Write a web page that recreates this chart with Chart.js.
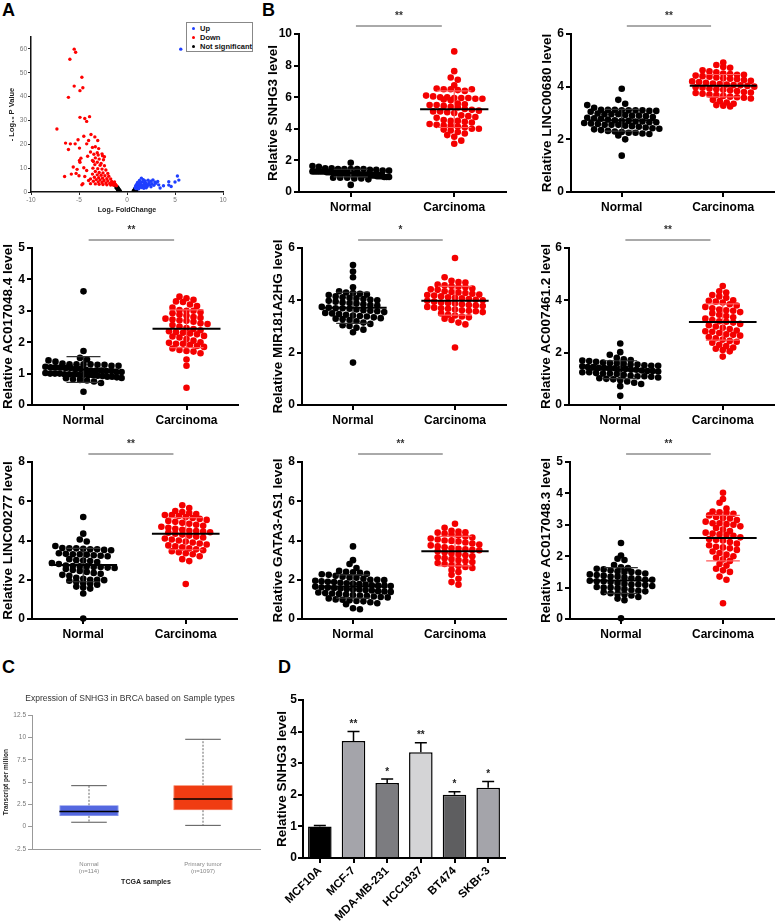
<!DOCTYPE html>
<html lang="en">
<head>
<meta charset="UTF-8">
<title>SNHG3 expression in breast cancer</title>
<script src="https://cdn.jsdelivr.net/npm/chart.js"></script>
<style>
    body { margin: 0; background: #fff; font-family: "Liberation Sans", Arial, sans-serif; }
    #page { position: relative; width: 778px; height: 924px; overflow: hidden; }
    canvas { position: absolute; }
    .tag { position: absolute; font-weight: bold; font-size: 18px; line-height: 1; }
    .legend { position: absolute; left: 186px; top: 22px; width: 67px; height: 30px; border: 1px solid #888; background: #fff;
              font-size: 7.5px; font-weight: bold; color: #111; padding: 1px 0 0 4px; box-sizing: border-box; }
    .legend div { height: 9px; line-height: 9px; white-space: nowrap; }
    .legend span { display: inline-block; width: 3px; height: 3px; border-radius: 50%; margin: 0 5px 1px 1px; vertical-align: middle; }
</style>
</head>
<body>
<div id="page">
    <div class="tag" style="left:2px;top:1px">A</div>
    <div class="tag" style="left:262px;top:1px">B</div>
    <div class="tag" style="left:2px;top:658px">C</div>
    <div class="tag" style="left:278px;top:658px">D</div>

    <canvas id="volcano" width="255" height="200" style="left:0;top:20px"></canvas>
    <div class="legend">
        <div><span style="background:#1f3fff"></span>Up</div>
        <div><span style="background:#ff0000"></span>Down</div>
        <div><span style="background:#000"></span>Not significant</div>
    </div>

    <canvas id="b1" width="245" height="217" style="left:265px;top:0"></canvas>
    <canvas id="b2" width="239" height="217" style="left:539px;top:0"></canvas>
    <canvas id="b3" width="242" height="215" style="left:0;top:216px"></canvas>
    <canvas id="b4" width="240" height="215" style="left:270px;top:216px"></canvas>
    <canvas id="b5" width="240" height="215" style="left:538px;top:216px"></canvas>
    <canvas id="b6" width="241" height="215" style="left:0;top:430px"></canvas>
    <canvas id="b7" width="240" height="215" style="left:270px;top:430px"></canvas>
    <canvas id="b8" width="240" height="215" style="left:538px;top:430px"></canvas>

    <canvas id="tcga" width="265" height="200" style="left:0;top:688px"></canvas>
    <canvas id="cells" width="234" height="244" style="left:274px;top:680px"></canvas>
</div>

<script>
    // ---------- data ----------
    const groupLabels = ['Normal', 'Carcinoma'];

    // A: volcano plot, [log2 fold change, -log10 p]
    const volcanoUp = [[5.6,59.9],[5.25,6.7],[5.4,5.0],[5.0,4.2],[4.35,4.3],[4.35,2.9],[3.2,4.4],[2.7,5.1],[3.45,1.7],
        [1.5,5.8],[1.7,5.2],[1.3,4.8],[1.9,4.6],[2.2,4.9],[2.5,4.5],[2.9,4.2],[1.1,4.0],[1.4,3.9],[1.6,4.3],[1.8,3.8],
        [2.0,3.6],[2.3,3.9],[2.6,3.5],[3.0,3.7],[1.0,3.2],[1.2,3.4],[1.45,3.1],[1.7,3.0],[1.95,3.2],[2.15,2.9],[2.4,3.0],
        [2.8,2.8],[3.3,3.0],[0.9,2.5],[1.15,2.7],[1.35,2.4],[1.6,2.2],[1.85,2.5],[2.1,2.3],[2.5,2.2],[0.85,1.8],[1.05,2.0],
        [1.25,1.7],[1.5,1.9],[1.75,1.6],[2.0,1.8],[0.95,1.4],[1.2,1.3],[4.6,2.3],[3.8,2.6]];
    const volcanoDown = [[-5.5,59.9],[-5.35,58.6],[-5.95,55.7],[-4.7,48.1],[-5.5,44.4],[-4.6,43.7],[-4.9,42.5],[-6.1,39.7],
        [-4.9,31.3],[-4.4,30.8],[-3.9,31.6],[-4.2,29.6],[-7.3,26.4],[-3.75,24.1],[-4.5,23.4],[-3.35,23.1],[-3.05,21.6],
        [-4.0,21.6],[-5.1,21.9],[-5.9,20.2],[-5.4,20.2],[-4.2,20.2],[-6.1,17.8],[-4.95,18.4],[-3.3,19.0],[-3.6,18.7],
        [-2.95,18.2],[-3.1,16.5],[-3.45,15.8],[-3.0,15.5],[-2.55,15.2],[-2.35,14.8],[-4.8,14.2],[-4.95,13.2],[-3.3,14.3],
        [-2.9,13.8],[-2.45,13.5],[-3.5,12.8],[-3.1,12.5],[-4.9,12.5],[-3.35,11.5],[-2.8,11.2],[-2.35,11.0],[-5.6,10.5],
        [-4.5,10.2],[-3.55,10.0],[-3.05,9.8],[-2.6,9.6],[-2.2,9.2],[-5.2,9.5],[-4.2,9.0],[-3.3,8.6],[-2.9,8.2],[-2.5,8.0],
        [-2.0,7.8],[-3.6,7.5],[-3.1,7.2],[-2.7,7.0],[-2.3,6.8],[-1.9,6.6],[-6.5,6.5],[-5.0,6.8],[-4.4,6.5],[-3.4,6.2],
        [-2.95,6.0],[-2.55,5.8],[-2.1,5.6],[-1.7,5.5],[-3.8,5.5],[-3.2,5.2],[-2.8,5.0],[-2.4,4.8],[-2.0,4.6],[-1.6,4.4],
        [-1.3,4.2],[-5.8,7.5],[-4.0,4.8],[-3.5,4.5],[-3.0,4.2],[-2.6,4.0],[-2.2,3.8],[-1.8,3.6],[-1.5,3.4],[-1.2,3.2],
        [-4.6,3.5],[-4.7,3.0],[-3.3,3.4],[-2.9,3.2],[-2.5,3.1],[-2.1,3.0],[-1.7,2.9],[-1.4,2.8],[-3.8,3.5],[-3.6,13.2],
        [-2.7,12.0],[-4.1,15.0],[-3.8,16.8],[-2.6,16.0],[-5.3,7.8],[-6.4,20.5],[-1.1,2.6],[-1.3,3.6],[-1.5,3.9]];
    const volcanoNS = [[-1.2,2.8],[-1.1,2.4],[-1.0,2.2],[-0.95,1.9],[-0.9,1.6],[-0.85,1.3],[-0.8,1.0],[-0.75,0.7],[-0.7,0.4],
        [-1.05,1.5],[-1.0,1.0],[-0.95,0.6],[-0.9,0.3],[-1.15,1.8],[-0.85,0.5],[0.65,0.4],[0.7,0.7],[0.75,1.0],[0.8,1.3],
        [0.85,1.6],[0.9,1.9],[0.95,2.2],[0.8,0.5],[0.9,0.8],[0.95,1.1],[1.0,1.4],[0.9,0.3],[1.0,0.6],[0.7,0.2],[-0.75,0.2]];

    // B: relative expression, one array per group
    const snhg3Normal = [1.85,1.65,1.6,1.5,1.5,1.45,1.45,1.45,1.45,1.45,1.4,1.4,1.35,1.35,1.3,1.3,1.3,1.3,1.3,1.3,1.25,1.25,1.25,1.25,
        1.2,1.2,1.2,1.2,1.2,1.2,1.2,1.15,1.15,1.15,1.1,1.1,1.1,1.1,1.05,1.05,1.05,1.0,1.0,1.0,0.95,0.95,0.95,0.9,0.9,0.9,0.85,0.85,0.8,0.45];
    const snhg3Carcinoma = [8.9,7.65,7.25,7.1,6.75,6.55,6.5,6.5,6.45,6.4,6.5,6.1,6.05,6.0,6.0,5.95,5.95,5.95,5.9,5.9,5.85,5.8,5.6,5.55,
        5.5,5.5,5.45,5.4,5.35,5.25,5.2,5.15,5.1,5.1,5.05,5.0,4.85,4.8,4.75,4.7,4.55,4.5,4.5,4.45,4.4,4.3,4.25,4.2,4.2,4.15,4.1,
        4.0,4.0,3.95,3.9,3.8,3.7,3.6,3.5,3.25,3.05];
    const linc00680Normal = [3.92,3.5,3.35,3.3,3.2,3.12,3.12,3.12,3.1,3.1,3.1,3.1,3.08,3.08,3.05,2.98,2.95,2.95,2.95,2.92,2.9,2.9,2.88,
        2.85,2.82,2.8,2.78,2.75,2.72,2.7,2.7,2.68,2.68,2.65,2.65,2.62,2.6,2.58,2.55,2.55,2.55,2.52,2.5,2.48,2.45,2.42,2.4,2.38,
        2.35,2.32,2.3,2.28,2.25,2.25,2.22,2.2,2.15,2.0,1.38];
    const linc00680Carcinoma = [4.92,4.82,4.75,4.72,4.62,4.58,4.55,4.5,4.48,4.45,4.45,4.42,4.4,4.38,4.35,4.32,4.3,4.28,4.25,4.22,4.2,
        4.18,4.15,4.12,4.1,4.08,4.06,4.05,4.03,4.0,3.98,3.96,3.93,3.9,3.88,3.86,3.83,3.8,3.78,3.76,3.73,3.7,3.68,3.65,3.62,3.6,
        3.58,3.55,3.5,3.45,3.4,3.35,3.3,3.28,3.25];
    const ac0170484Normal = [3.62,1.72,1.5,1.45,1.42,1.38,1.32,1.3,1.3,1.3,1.3,1.28,1.28,1.25,1.25,1.22,1.2,1.2,1.2,1.18,1.18,1.15,1.15,
        1.12,1.1,1.1,1.1,1.08,1.08,1.05,1.05,1.02,1.0,1.0,1.0,0.98,0.98,0.98,0.96,0.96,0.95,0.95,0.93,0.92,0.9,0.9,0.88,0.86,
        0.85,0.82,0.8,0.78,0.75,0.7,0.42];
    const ac0170484Carcinoma = [3.45,3.4,3.35,3.3,3.28,3.2,3.15,3.1,3.02,3.0,3.0,2.95,2.92,2.88,2.85,2.8,2.78,2.75,2.72,2.7,2.68,2.65,
        2.6,2.58,2.55,2.5,2.45,2.42,2.38,2.35,2.32,2.3,2.28,2.25,2.2,2.18,2.15,2.1,2.05,2.0,1.98,1.95,1.95,1.92,1.88,1.85,1.8,
        1.75,1.72,1.7,1.65,1.45,1.25,0.55];
    const mir181Normal = [5.35,5.1,4.88,4.5,4.35,4.3,4.28,4.25,4.22,4.2,4.15,4.12,4.1,4.08,4.05,4.02,4.0,3.98,3.95,3.92,3.9,3.88,3.85,
        3.82,3.8,3.75,3.72,3.7,3.7,3.68,3.65,3.62,3.6,3.58,3.55,3.52,3.5,3.48,3.45,3.42,3.4,3.38,3.35,3.32,3.3,3.28,3.25,3.2,
        3.15,3.1,3.05,3.02,2.95,2.88,2.78,1.62];
    const mir181Carcinoma = [5.62,4.88,4.75,4.7,4.68,4.6,4.57,4.55,4.52,4.5,4.45,4.42,4.4,4.35,4.32,4.3,4.28,4.25,4.22,4.2,4.18,4.15,
        4.12,4.1,4.08,4.05,4.02,4.0,3.98,3.95,3.92,3.9,3.88,3.85,3.82,3.8,3.78,3.75,3.72,3.7,3.68,3.65,3.62,3.6,3.58,3.55,3.5,
        3.45,3.42,3.38,3.35,3.3,3.25,3.15,3.08,2.2];
    const ac0074612Normal = [2.35,2.02,1.92,1.8,1.75,1.72,1.7,1.68,1.65,1.62,1.6,1.6,1.58,1.55,1.55,1.52,1.5,1.5,1.48,1.45,1.45,1.42,
        1.42,1.4,1.4,1.38,1.38,1.35,1.35,1.32,1.3,1.3,1.28,1.25,1.25,1.22,1.2,1.2,1.18,1.15,1.12,1.1,1.1,1.08,1.05,1.02,1.0,
        0.98,0.95,0.9,0.85,0.8,0.72,0.35];
    const ac0074612Carcinoma = [4.55,4.35,4.3,4.2,4.15,4.1,4.0,3.98,3.95,3.92,3.85,3.8,3.75,3.7,3.65,3.62,3.6,3.55,3.5,3.45,3.4,3.35,
        3.3,3.25,3.2,3.18,3.15,3.1,3.05,3.0,2.95,2.9,2.85,2.82,2.8,2.75,2.7,2.68,2.65,2.6,2.55,2.5,2.45,2.42,2.38,2.3,2.25,2.2,
        2.15,2.1,2.05,1.85];
    const linc00277Normal = [5.2,4.35,4.05,3.95,3.72,3.62,3.6,3.6,3.58,3.55,3.55,3.52,3.5,3.35,3.32,3.3,3.3,3.28,3.25,3.22,3.2,3.05,
        3.0,2.98,2.95,2.9,2.85,2.8,2.72,2.7,2.68,2.68,2.65,2.65,2.62,2.6,2.55,2.5,2.45,2.4,2.35,2.3,2.25,2.2,2.1,2.05,2.0,2.0,
        1.98,1.95,1.9,1.82,1.8,1.75,1.65,1.6,1.55,1.3,0.02];
    const linc00277Carcinoma = [5.8,5.65,5.5,5.45,5.4,5.35,5.3,5.3,5.25,5.2,5.15,5.1,5.05,5.0,4.95,4.9,4.85,4.8,4.75,4.7,4.65,4.6,
        4.55,4.5,4.48,4.45,4.42,4.4,4.35,4.3,4.25,4.2,4.15,4.1,4.05,4.0,3.95,3.9,3.85,3.8,3.75,3.7,3.65,3.6,3.55,3.5,3.45,3.4,
        3.35,3.3,3.2,3.05,2.95,1.78];
    const gata3Normal = [3.7,3.0,2.8,2.6,2.45,2.4,2.38,2.35,2.3,2.28,2.25,2.2,2.15,2.12,2.1,2.05,2.0,2.0,1.98,1.95,1.92,1.9,1.88,
        1.85,1.82,1.8,1.78,1.75,1.72,1.7,1.7,1.68,1.65,1.62,1.6,1.58,1.55,1.52,1.5,1.5,1.48,1.45,1.42,1.4,1.38,1.35,1.32,1.3,
        1.28,1.25,1.22,1.2,1.18,1.15,1.12,1.1,1.05,1.0,0.98,0.95,0.92,0.9,0.85,0.8,0.75,0.55,0.5];
    const gata3Carcinoma = [4.85,4.65,4.5,4.45,4.42,4.4,4.35,4.3,4.25,4.2,4.15,4.1,4.05,4.0,3.98,3.95,3.9,3.85,3.8,3.75,3.7,3.65,
        3.6,3.58,3.55,3.52,3.5,3.45,3.4,3.35,3.3,3.25,3.2,3.15,3.1,3.05,3.0,2.95,2.9,2.85,2.8,2.75,2.7,2.65,2.6,2.5,2.4,2.25,
        2.05,1.88,1.75];
    const ac0170483Normal = [2.42,2.02,1.92,1.88,1.72,1.65,1.62,1.6,1.58,1.55,1.52,1.5,1.5,1.48,1.45,1.42,1.4,1.38,1.35,1.35,1.32,1.3,
        1.28,1.25,1.25,1.22,1.2,1.2,1.18,1.15,1.12,1.1,1.1,1.08,1.05,1.02,1.0,1.0,0.98,0.95,0.92,0.9,0.88,0.85,0.82,0.8,0.78,
        0.75,0.7,0.65,0.6,0.02];
    const ac0170483Carcinoma = [4.02,3.82,3.7,3.52,3.42,3.4,3.38,3.35,3.3,3.25,3.22,3.2,3.15,3.1,3.05,3.05,3.02,3.0,2.95,2.9,2.85,2.8,
        2.75,2.72,2.7,2.68,2.65,2.6,2.55,2.52,2.5,2.45,2.4,2.35,2.3,2.28,2.25,2.2,2.15,2.1,2.05,2.0,1.95,1.9,1.85,1.75,1.7,1.6,
        1.55,1.5,1.35,1.25,0.5];

    const dotGenes = ['SNHG3', 'LINC00680', 'AC017048.4', 'MIR181A2HG', 'AC007461.2', 'LINC00277', 'GATA3-AS1', 'AC017048.3'];
    const dotNormal = [snhg3Normal, linc00680Normal, ac0170484Normal, mir181Normal, ac0074612Normal, linc00277Normal, gata3Normal, ac0170483Normal];
    const dotCarcinoma = [snhg3Carcinoma, linc00680Carcinoma, ac0170484Carcinoma, mir181Carcinoma, ac0074612Carcinoma, linc00277Carcinoma, gata3Carcinoma, ac0170483Carcinoma];
    const dotYMax = [10, 6, 5, 6, 6, 8, 8, 5];
    const dotYStep = [2, 2, 1, 2, 2, 2, 2, 1];
    const dotStars = ['**', '**', '**', '*', '**', '**', '**', '**'];

    // C: TCGA box plot
    const tcgaLabels = [['Normal', '(n=114)'], ['Primary tumor', '(n=1097)']];
    const tcgaMin = [0.5, 0.15];
    const tcgaQ1 = [1.2, 1.85];
    const tcgaMedian = [1.7, 3.1];
    const tcgaQ3 = [2.4, 4.65];
    const tcgaMax = [4.6, 9.8];

    // D: cell lines
    const cellLines = ['MCF10A', 'MCF-7', 'MDA-MB-231', 'HCC1937', 'BT474', 'SKBr-3'];
    const cellSNHG3 = [1.0, 3.7, 2.37, 3.35, 2.0, 2.22];
    const cellSEM = [0.03, 0.3, 0.13, 0.3, 0.1, 0.2];
    const cellStars = ['', '**', '*', '**', '*', '*'];

    // ---------- layout ----------
    Chart.defaults.font.family = '"Liberation Sans", Arial, sans-serif';
    Chart.defaults.animation = false;
    Chart.defaults.plugins.legend.display = false;
    Chart.defaults.plugins.tooltip.enabled = false;

    // canvas inner geometry for the 8 dot plots: y axis width, top pad, right pad, x axis height
    const layoutB = [
        {yW: 34, top: 34, right: 3, xH: 25},
        {yW: 32, top: 34, right: 1, xH: 25},
        {yW: 32, top: 32, right: 4, xH: 26},
        {yW: 32, top: 32, right: 3, xH: 26},
        {yW: 31, top: 32, right: 1, xH: 26},
        {yW: 32, top: 32, right: 4, xH: 26},
        {yW: 32, top: 32, right: 3, xH: 26},
        {yW: 32, top: 32, right: 1, xH: 26}
    ];

    // spread dots sideways in rows, like a column scatter; wide rows get squeezed
    function swarm(values, center, yMax) {
        const bin = yMax * 0.038;
        const rows = {};
        values.forEach(v => {
            const k = Math.round(v / bin);
            (rows[k] = rows[k] || []).push(v);
        });
        const pts = [];
        Object.values(rows).forEach(row => {
            const step = row.length > 1 ? Math.min(0.068, 0.74 / (row.length - 1)) : 0;
            row.forEach((v, i) => pts.push({x: center + (i - (row.length - 1) / 2) * step, y: v}));
        });
        return pts;
    }

    const meanSdPlugin = {
        id: 'meanSd',
        afterDatasetsDraw(chart) {
            const {ctx, scales: {x, y}} = chart;
            chart.data.datasets.forEach((ds, i) => {
                const vals = ds.data.map(p => p.y);
                const mean = vals.reduce((a, b) => a + b, 0) / vals.length;
                const sd = Math.sqrt(vals.reduce((a, b) => a + (b - mean) ** 2, 0) / (vals.length - 1));
                const cx = x.getPixelForValue(i);
                const half = x.getPixelForValue(i + 0.33) - cx;
                const cap = half / 2;
                const yT = y.getPixelForValue(mean + sd), yB = y.getPixelForValue(mean - sd), yM = y.getPixelForValue(mean);
                ctx.save();
                ctx.strokeStyle = i ? '#ff5a5a' : '#333';
                ctx.lineWidth = 1.2;
                ctx.beginPath();
                ctx.moveTo(cx, yT); ctx.lineTo(cx, yB);
                ctx.moveTo(cx - cap, yT); ctx.lineTo(cx + cap, yT);
                ctx.moveTo(cx - cap, yB); ctx.lineTo(cx + cap, yB);
                ctx.stroke();
                ctx.strokeStyle = '#000';
                ctx.lineWidth = 2;
                ctx.beginPath();
                ctx.moveTo(cx - half, yM); ctx.lineTo(cx + half, yM);
                ctx.stroke();
                ctx.restore();
            });
        }
    };

    function sigBar(text) {
        return {
            id: 'sigBar',
            afterDraw(chart) {
                const {ctx, chartArea, scales: {x}} = chart;
                const x0 = x.getPixelForValue(0.05), x1 = x.getPixelForValue(0.88);
                const yl = chartArea.top - 8;
                ctx.save();
                ctx.strokeStyle = '#555';
                ctx.lineWidth = 1;
                ctx.beginPath(); ctx.moveTo(x0, yl); ctx.lineTo(x1, yl); ctx.stroke();
                ctx.fillStyle = '#333';
                ctx.font = 'bold 10px "Liberation Sans", Arial, sans-serif';
                ctx.textAlign = 'center';
                ctx.textBaseline = 'middle';
                ctx.fillText(text, (x0 + x1) / 2, yl - 10);
                ctx.restore();
            }
        };
    }

    function dotChart(i) {
        const L = layoutB[i];
        const yMax = dotYMax[i];
        new Chart(document.getElementById('b' + (i + 1)), {
            type: 'scatter',
            data: {
                datasets: [
                    {data: swarm(dotNormal[i], 0, yMax), backgroundColor: '#000', pointRadius: 3.3, borderWidth: 0, clip: false},
                    {data: swarm(dotCarcinoma[i], 1, yMax), backgroundColor: '#f40000', pointRadius: 3.3, borderWidth: 0, clip: false}
                ]
            },
            options: {
                responsive: false,
                layout: {padding: {top: L.top, right: L.right, left: 0, bottom: 0}},
                scales: {
                    x: {
                        type: 'linear', min: -0.5, max: 1.5,
                        afterBuildTicks: s => { s.ticks = [{value: 0}, {value: 1}]; },
                        afterFit: s => { s.height = L.xH; },
                        ticks: {callback: v => groupLabels[v], color: '#000', font: {size: 12, weight: 'bold'}, padding: 3, maxRotation: 0},
                        grid: {drawOnChartArea: false, tickLength: 5, lineWidth: 2, color: '#000'},
                        border: {color: '#000', width: 2}
                    },
                    y: {
                        min: 0, max: yMax,
                        afterFit: s => { s.width = L.yW; },
                        ticks: {stepSize: dotYStep[i], color: '#000', font: {size: 12, weight: 'bold'}, padding: 2},
                        grid: {drawOnChartArea: false, tickLength: 5, lineWidth: 2, color: '#000'},
                        border: {color: '#000', width: 2},
                        title: {display: true, text: 'Relative ' + dotGenes[i] + ' level', color: '#000',
                                font: {size: 13.5, weight: 'bold'}, padding: {top: 0, bottom: 0}}
                    }
                }
            },
            plugins: [meanSdPlugin, sigBar(dotStars[i])]
        });
    }
    for (let i = 0; i < 8; i++) dotChart(i);

    // A: volcano
    const toPts = arr => arr.map(p => ({x: p[0], y: p[1]}));
    new Chart(document.getElementById('volcano'), {
        type: 'scatter',
        data: {
            datasets: [
                {label: 'Up', data: toPts(volcanoUp), backgroundColor: '#1f3fff', pointRadius: 1.7, borderWidth: 0},
                {label: 'Down', data: toPts(volcanoDown), backgroundColor: '#ff0000', pointRadius: 1.7, borderWidth: 0},
                {label: 'Not significant', data: toPts(volcanoNS), backgroundColor: '#000', pointRadius: 1.7, borderWidth: 0}
            ]
        },
        options: {
            responsive: false,
            layout: {padding: {top: 17, right: 32, left: 0, bottom: 0}},
            scales: {
                x: {
                    type: 'linear', min: -10, max: 10,
                    afterFit: s => { s.height = 28; },
                    ticks: {stepSize: 5, color: '#777', font: {size: 6.5}, padding: 1},
                    grid: {drawOnChartArea: false, tickLength: 3, color: '#222'},
                    border: {color: '#111', width: 1.5},
                    title: {display: true, text: 'Log₂ FoldChange', color: '#222', font: {size: 7, weight: 'bold'}, padding: {top: 0, bottom: 5.8}}
                },
                y: {
                    min: 0, max: 65,
                    afterBuildTicks: s => { s.ticks = s.ticks.filter(t => t.value % 10 === 0); },
                    afterFit: s => { s.width = 31; },
                    ticks: {stepSize: 10, color: '#777', font: {size: 6.5}, padding: 1},
                    grid: {drawOnChartArea: false, tickLength: 3, color: '#222'},
                    border: {color: '#111', width: 1.5},
                    title: {display: true, text: '- Log₁₀ P Value', color: '#222', font: {size: 7.5, weight: 'bold'}, padding: {top: 7.5, bottom: 0}}
                }
            }
        }
    });

    // C: TCGA box plot
    const boxPlugin = {
        id: 'boxParts',
        afterDatasetsDraw(chart) {
            const {ctx, scales: {x, y}} = chart;
            const bars = chart.getDatasetMeta(0).data;
            ctx.save();
            bars.forEach((bar, i) => {
                const cx = x.getPixelForValue(i);
                const w = bar.width;
                const capW = w * 0.3;
                ctx.strokeStyle = '#666';
                ctx.lineWidth = 1;
                ctx.setLineDash([2, 1.5]);
                ctx.beginPath();
                ctx.moveTo(cx, y.getPixelForValue(tcgaQ3[i])); ctx.lineTo(cx, y.getPixelForValue(tcgaMax[i]));
                ctx.moveTo(cx, y.getPixelForValue(tcgaQ1[i])); ctx.lineTo(cx, y.getPixelForValue(tcgaMin[i]));
                ctx.stroke();
                ctx.setLineDash([]);
                ctx.strokeStyle = '#555';
                ctx.beginPath();
                ctx.moveTo(cx - capW, y.getPixelForValue(tcgaMax[i])); ctx.lineTo(cx + capW, y.getPixelForValue(tcgaMax[i]));
                ctx.moveTo(cx - capW, y.getPixelForValue(tcgaMin[i])); ctx.lineTo(cx + capW, y.getPixelForValue(tcgaMin[i]));
                ctx.stroke();
                ctx.strokeStyle = '#000';
                ctx.lineWidth = 1.5;
                ctx.beginPath();
                ctx.moveTo(cx - w / 2, y.getPixelForValue(tcgaMedian[i])); ctx.lineTo(cx + w / 2, y.getPixelForValue(tcgaMedian[i]));
                ctx.stroke();
            });
            ctx.restore();
        }
    };
    new Chart(document.getElementById('tcga'), {
        type: 'bar',
        data: {
            labels: tcgaLabels,
            datasets: [{
                data: tcgaQ1.map((q, i) => [q, tcgaQ3[i]]),
                backgroundColor: ['#5468e0', '#f03c12'],
                borderColor: ['#7080e8', '#f25a30'],
                borderWidth: 0.8,
                borderSkipped: false,
                barPercentage: 0.52,
                categoryPercentage: 1
            }]
        },
        options: {
            responsive: false,
            layout: {padding: {top: 0, right: 5, left: 0, bottom: 0}},
            plugins: {
                title: {display: true, text: 'Expression of SNHG3 in BRCA based on Sample types', color: '#333',
                        font: {size: 8.5, weight: 'normal'}, padding: {top: 6, bottom: 11}}
            },
            scales: {
                x: {
                    afterFit: s => { s.height = 39; },
                    ticks: {color: '#888', font: {size: 6}, padding: 12, maxRotation: 0},
                    grid: {display: false, drawTicks: false},
                    border: {color: '#999', width: 1},
                    title: {display: true, text: 'TCGA samples', color: '#222', font: {size: 7, weight: 'bold'}, padding: {top: 0, bottom: 1.8}}
                },
                y: {
                    min: -2.5, max: 12.5,
                    afterFit: s => { s.width = 32; },
                    ticks: {stepSize: 2.5, color: '#777', font: {size: 6.5}, padding: 2, callback: v => String(v)},
                    grid: {drawOnChartArea: false, tickLength: 4, color: '#999'},
                    border: {color: '#999', width: 1},
                    title: {display: true, text: 'Transcript per million', color: '#222', font: {size: 6.5, weight: 'bold'}, padding: {top: 2, bottom: 0}}
                }
            }
        },
        plugins: [boxPlugin]
    });

    // D: cell lines bar chart
    const errPlugin = {
        id: 'errBars',
        afterDatasetsDraw(chart) {
            const {ctx, scales: {x, y}} = chart;
            ctx.save();
            cellSNHG3.forEach((v, i) => {
                const cx = x.getPixelForValue(i);
                const top = y.getPixelForValue(v + cellSEM[i]);
                ctx.strokeStyle = '#000';
                ctx.lineWidth = 1.5;
                ctx.beginPath();
                ctx.moveTo(cx, y.getPixelForValue(v)); ctx.lineTo(cx, top);
                ctx.moveTo(cx - 6, top); ctx.lineTo(cx + 6, top);
                ctx.stroke();
                if (cellStars[i]) {
                    ctx.fillStyle = '#222';
                    ctx.font = 'bold 10px "Liberation Sans", Arial, sans-serif';
                    ctx.textAlign = 'center';
                    ctx.textBaseline = 'middle';
                    ctx.fillText(cellStars[i], cx, top - 7);
                }
            });
            ctx.restore();
        }
    };
    new Chart(document.getElementById('cells'), {
        type: 'bar',
        data: {
            labels: cellLines,
            datasets: [{
                data: cellSNHG3,
                backgroundColor: ['#000000', '#a4a4aa', '#7c7c80', '#d4d4d6', '#5e5e60', '#a4a4aa'],
                borderColor: '#000',
                borderWidth: 1.5,
                barPercentage: 0.7,
                categoryPercentage: 1
            }]
        },
        options: {
            responsive: false,
            layout: {padding: {top: 20, right: 3, left: 0, bottom: 0}},
            scales: {
                x: {
                    afterFit: s => { s.height = 66; },
                    ticks: {color: '#000', font: {size: 11.5, weight: 'bold'}, minRotation: 45, maxRotation: 45, padding: 1},
                    grid: {offset: false, drawOnChartArea: false, tickLength: 5, lineWidth: 2, color: '#000'},
                    border: {color: '#000', width: 2}
                },
                y: {
                    min: 0, max: 5,
                    afterFit: s => { s.width = 29; },
                    ticks: {stepSize: 1, color: '#000', font: {size: 12, weight: 'bold'}, padding: 1},
                    grid: {drawOnChartArea: false, tickLength: 5, lineWidth: 2, color: '#000'},
                    border: {color: '#000', width: 2},
                    title: {display: true, text: 'Relative SNHG3 level', color: '#000', font: {size: 13.5, weight: 'bold'}, padding: {top: 0, bottom: 0}}
                }
            }
        },
        plugins: [errPlugin]
    });
</script>
</body>
</html>
